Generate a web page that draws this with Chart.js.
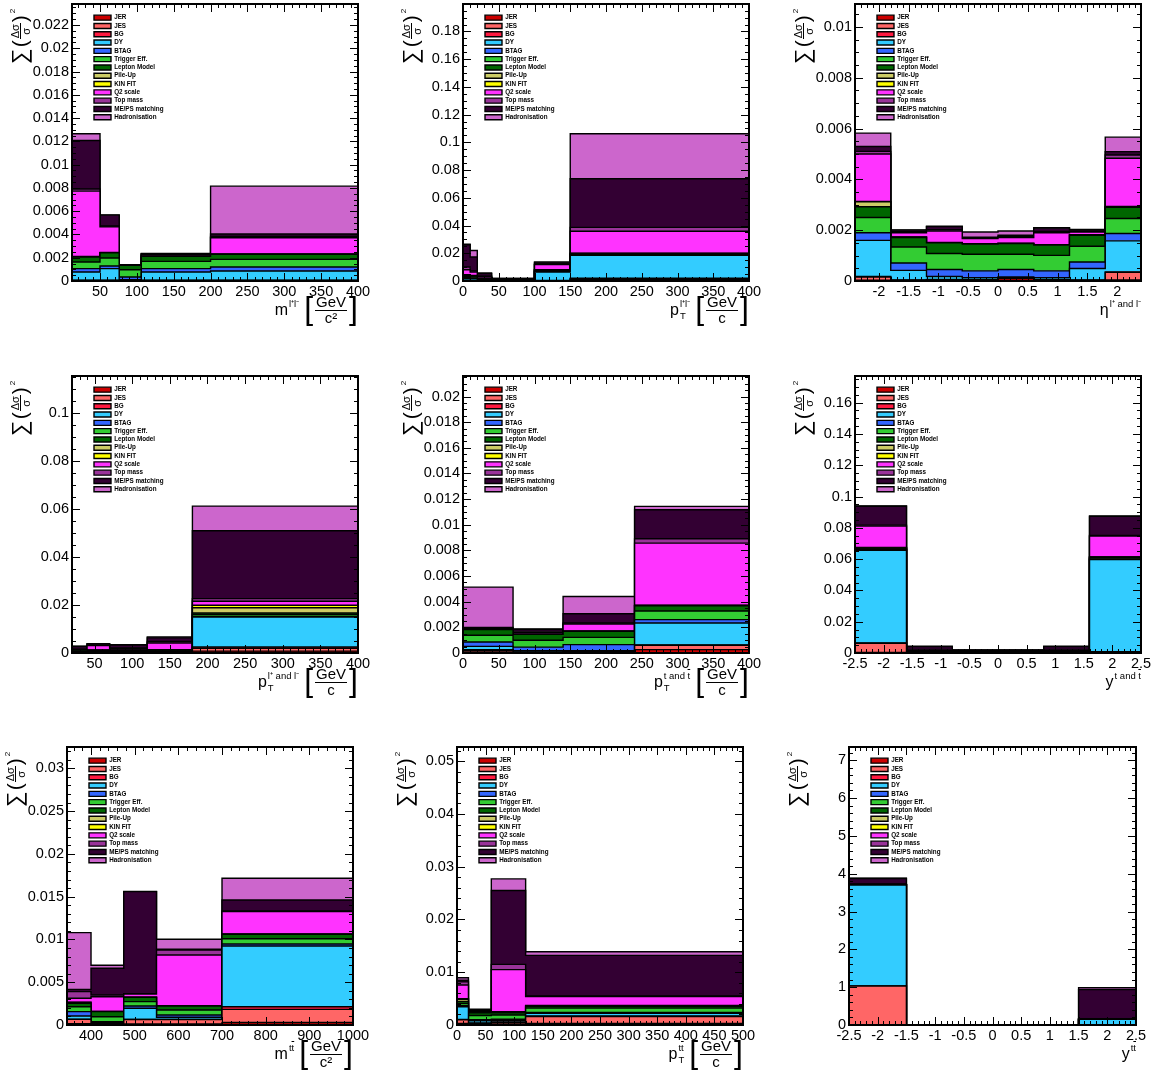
<!DOCTYPE html>
<html><head><meta charset="utf-8">
<script src="https://cdn.jsdelivr.net/npm/chart.js@4/dist/chart.umd.min.js"></script>
<style>
html,body{margin:0;padding:0;background:#fff;}
#page{position:relative;width:1151px;height:1070px;overflow:hidden;background:#fff;font-family:"Liberation Sans",Arial,Helvetica,sans-serif;color:#000;}
canvas{position:absolute;}
.xt{position:absolute;display:flex;align-items:center;height:30px;font-size:16px;white-space:nowrap;line-height:1;}
.ss{display:inline-flex;flex-direction:column;font-size:9.5px;line-height:9px;margin-left:1px;}
.sp{position:relative;top:-2px;}
.sb{position:relative;top:1px;}
.ov{text-decoration:overline;}
.br{font-size:32px;line-height:30px;font-weight:300;margin:0 2px 0 5px;position:relative;top:-2px;}
.br.r{margin:0 0 0 2px;}
.fr{display:inline-flex;flex-direction:column;align-items:center;font-size:15px;line-height:14px;}
.fr .nu{border-bottom:1px solid #000;padding:0 1px 1px 1px;}
.yt{position:absolute;left:0;top:0;transform-origin:0 0;display:flex;align-items:center;height:22px;white-space:nowrap;line-height:1;}
.yt .sum{font-size:22px;}
.yt .par{font-size:21px;font-weight:300;margin:0 1px;position:relative;top:-1px;}
.yt .yfr{display:inline-flex;flex-direction:column;align-items:center;font-size:11px;line-height:10px;}
.yt .yfr .nu{border-bottom:1px solid #000;padding:0 1px;}
.yt .two{font-size:8px;align-self:flex-start;margin-left:1px;}
</style>
</head><body><div id="page"></div>
<script>
// ---------------- DATA ----------------
const SOURCES = ['JER','JES','BG','DY','BTAG','Trigger Eff.','Lepton Model','Pile-Up','KIN FIT','Q2 scale','Top mass','ME/PS matching','Hadronisation'];

// m(l+l-) [GeV/c^2]
const MLL_EDGES = [12, 50, 76, 106, 200, 400];
const MLL_VALUES = [
  [0.00002,0.00002,0.00001,0.00002,0.00002],
  [0.00003,0.00003,0.00001,0.00003,0.00003],
  [0.00002,0.00002,0.00001,0.00002,0.00002],
  [0.0007,0.00099,0.00008,0.0007,0.00079],
  [0.00029,0.00023,0.00023,0.00029,0.00034],
  [0.00057,0.00068,0.00063,0.00063,0.00066],
  [0.00043,0.00046,0.00037,0.00043,0.00043],
  [0.00002,0.00001,0.00001,0.00002,0.00002],
  [0.00002,0.00001,0.00001,0.00001,0.00002],
  [0.00562,0.0022,0.00001,0.00012,0.00139],
  [0.00018,0.00007,0.00001,0.00004,0.0001],
  [0.00417,0.00094,0.00002,0.00004,0.00022],
  [0.00058,0.00002,0.00001,0.00002,0.00411]
];

// pT(l+l-) [GeV/c]
const PTLL_EDGES = [0, 10, 20, 40, 60, 100, 150, 400];
const PTLL_VALUES = [
  [0.0002,0.0002,0.0001,0.0001,0.0001,0.0002,0.0012],
  [0.0002,0.0001,0.0001,0.00005,0.00005,0.0001,0.0005],
  [0.0001,0.0001,0.0001,0.00005,0.00005,0.0001,0.0003],
  [0.0015,0.0012,0.0005,0.0003,0.0003,0.0061,0.0166],
  [0.0003,0.0004,0.0002,0.0001,0.0001,0.0003,0.0003],
  [0.001,0.0008,0.0004,0.0003,0.0003,0.0004,0.0004],
  [0.0008,0.0008,0.0004,0.0003,0.0003,0.0005,0.0003],
  [0.0003,0.0002,0.0001,0.00005,0.00005,0.0003,0.0003],
  [0.0002,0.0002,0.0001,0.00005,0.00005,0.0002,0.0001],
  [0.0035,0.0025,0.0012,0.0002,0.0001,0.0036,0.0159],
  [0.002,0.0008,0.0003,0.00005,0.00005,0.0004,0.0028],
  [0.016,0.01,0.0018,0.0003,0.0003,0.0008,0.035],
  [0.0004,0.0047,0.0005,0.00005,0.00005,0.0007,0.0325]
];

// eta(l+ and l-)
const ETAL_EDGES = [-2.4, -1.8, -1.2, -0.6, 0, 0.6, 1.2, 1.8, 2.4];
const ETAL_VALUES = [
  [0.00003,0.00001,0.00002,0.00002,0.0001,0.00002,0.00001,0.00004],
  [0.00013,0.00002,0.00003,0.00002,0.00002,0.00002,0.00002,0.0003],
  [0.00002,0.00001,0.00001,0.00001,0.00001,0.00001,0.00001,0.00002],
  [0.00142,0.00038,0.00012,0.00008,0.00003,0.00008,0.00045,0.00122],
  [0.0003,0.00029,0.00027,0.00027,0.00029,0.00027,0.00026,0.00029],
  [0.0006,0.00063,0.00063,0.00065,0.0006,0.00061,0.00062,0.00059],
  [0.00042,0.00037,0.00042,0.0004,0.00042,0.0004,0.00043,0.00044],
  [0.0002,0.00001,0.00001,0.00001,0.00001,0.00001,0.00001,0.00002],
  [0.00001,0.00001,0.00001,0.00001,0.00001,0.00001,0.00001,0.00001],
  [0.00187,0.00017,0.00045,0.0002,0.00022,0.00047,0.00011,0.0019],
  [0.0001,0.00004,0.00005,0.00002,0.00003,0.00005,0.00003,0.00013],
  [0.00019,0.00006,0.00012,0.00003,0.00006,0.00013,0.00004,0.00013],
  [0.00053,0.00001,0.00002,0.00021,0.00017,0.00002,0.00003,0.00057]
];

// pT(l+ and l-) [GeV/c]
const PTL_EDGES = [20, 40, 70, 120, 180, 400];
const PTL_VALUES = [
  [0.0001,0.0001,0.0001,0.0001,0.0008],
  [0.0001,0.0001,0.0001,0.0001,0.0012],
  [0.0001,0.0001,0.0001,0.0001,0.0005],
  [0.0002,0.0002,0.0002,0.0003,0.0125],
  [0.0001,0.0001,0.0001,0.0001,0.0003],
  [0.0003,0.0002,0.0002,0.0002,0.0007],
  [0.0003,0.0003,0.0003,0.0003,0.0007],
  [0.0001,0.0001,0.0001,0.0001,0.0022],
  [0.0001,0.0001,0.0001,0.0001,0.001],
  [0.0001,0.0018,0.0005,0.0028,0.0017],
  [0.0001,0.0002,0.0003,0.0006,0.0011],
  [0.0011,0.0005,0.0012,0.0015,0.0283],
  [0.0001,0.0001,0.0002,0.0004,0.0103]
];

// pT(t and tbar) [GeV/c]
const PTT_EDGES = [0, 70, 140, 240, 400];
const PTT_VALUES = [
  [0.00008,0.00003,0.00005,0.00026],
  [0.00014,0.00003,0.00003,0.00034],
  [0.00004,0.00002,0.00002,0.00002],
  [0.00026,0.0001,0.00008,0.00172],
  [0.00034,0.00028,0.00047,0.00026],
  [0.00052,0.00054,0.00057,0.00067],
  [0.00044,0.00045,0.00047,0.00042],
  [0.00001,0.00001,0.00001,0.00002],
  [0.00001,0.00001,0.00001,0.00001],
  [0.00004,0.00012,0.00055,0.00485],
  [0.00004,0.00006,0.00008,0.00034],
  [0.00008,0.00018,0.00072,0.00226],
  [0.00314,0.00004,0.00135,0.00026]
];

// y(t and tbar)
const YT_EDGES = [-2.5, -1.6, -0.8, 0, 0.8, 1.6, 2.5];
const YT_VALUES = [
  [0.0003,0.0002,0.0001,0.0001,0.0002,0.0003],
  [0.0059,0.0002,0.0001,0.0001,0.0002,0.0003],
  [0.0002,0.0001,0.0001,0.0001,0.0001,0.0002],
  [0.0593,0.0003,0.0002,0.0002,0.0003,0.0589],
  [0.0003,0.0001,0.0001,0.0001,0.0001,0.0003],
  [0.0005,0.0002,0.0002,0.0002,0.0002,0.0006],
  [0.0005,0.0002,0.0002,0.0002,0.0002,0.0005],
  [0.0002,0.0001,0.0001,0.0001,0.0001,0.0002],
  [0.0002,0.0001,0.0001,0.0001,0.0001,0.0001],
  [0.0137,0.0005,0.0002,0.0002,0.0005,0.0133],
  [0.0006,0.0003,0.0001,0.0001,0.0003,0.0004],
  [0.0121,0.0018,0.0004,0.0004,0.0018,0.0122],
  [0.0002,0.0002,0.0001,0.0001,0.0002,0.0002]
];

// m(ttbar) [GeV/c^2]
const MTT_EDGES = [345, 400, 475, 550, 700, 1000];
const MTT_VALUES = [
  [0.00015,0.00008,0.00012,0.00012,0.0003],
  [0.00051,0.00012,0.00052,0.00052,0.00153],
  [0.00002,0.00002,0.00002,0.00002,0.00031],
  [0.00037,0.00006,0.00129,0.00025,0.0071],
  [0.00051,0.00012,0.00027,0.00026,0.00023],
  [0.00058,0.00057,0.00051,0.00058,0.00062],
  [0.00039,0.00059,0.0005,0.00047,0.00051],
  [0.0001,0.00001,0.00001,0.00001,0.00002],
  [0.00005,0.00001,0.00001,0.00001,0.00001],
  [0.00044,0.00173,0.00037,0.00594,0.00262],
  [0.00078,0.00019,0.00004,0.00059,0.00008],
  [0.00027,0.00313,0.01193,0.00008,0.00128],
  [0.00663,0.00035,0.00001,0.00117,0.00254]
];

// pT(ttbar) [GeV/c]
const PTTT_EDGES = [0, 20, 60, 120, 500];
const PTTT_VALUES = [
  [0.0003,0.0001,0.0002,0.0003],
  [0.0007,0.0002,0.0003,0.0013],
  [0.00007,0.0001,0.0001,0.0001],
  [0.0024,0.0004,0.0003,0.0005],
  [0.0002,0.0002,0.0002,0.0002],
  [0.0004,0.0008,0.0008,0.0008],
  [0.0004,0.0005,0.0004,0.0003],
  [0.0004,0.0001,0.0001,0.0001],
  [0.0001,0.0001,0.0001,0.0001],
  [0.0026,0.0002,0.008,0.0017],
  [0.0006,0.0001,0.001,0.0001],
  [0.0003,0.0001,0.014,0.0077],
  [0.0005,0.0001,0.0022,0.0007]
];

// y(ttbar)
const YTT_EDGES = [-2.5, -1.5, -0.5, 0.5, 1.5, 2.5];
const YTT_VALUES = [
  [0.01,0,0,0,0.003],
  [1.02,0,0,0,0.003],
  [0.002,0,0,0,0.002],
  [2.67,0,0,0,0.14],
  [0.003,0,0,0,0.002],
  [0.003,0,0,0,0.002],
  [0.003,0,0,0,0.002],
  [0.002,0,0,0,0.001],
  [0.001,0,0,0,0.001],
  [0.005,0,0,0,0.005],
  [0.003,0,0,0,0.005],
  [0.15,0,0,0,0.77],
  [0.01,0,0,0,0.05]
];

// axis ranges / tick steps
const Y_MAX  = [0.0238, 0.1998, 0.0109, 0.1156, 0.0216, 0.177, 0.0325, 0.0527, 7.35];
const Y_STEP = [0.002, 0.02, 0.002, 0.02, 0.002, 0.02, 0.005, 0.01, 1];
const X_STEP = [50, 50, 0.5, 50, 50, 0.5, 100, 50, 0.5];

// ---------------- STYLE ----------------
const COLORS = ['#cc0000','#ff6666','#ff1a40','#33ccff','#3366ff','#33cc33','#006600','#cccc66','#ffff00','#ff33ff','#993399','#330033','#cc66cc'];
const FONT = '"Liberation Sans", Arial, Helvetica, sans-serif';
const RECTS = [
  [72,4,358,281],[463,4,749,281],[855,4,1141,281],
  [72,376,358,653],[463,376,749,653],[855,376,1141,653],
  [67,747,353,1025],[457,747,743,1025],[849,747,1136,1025]
];
const TBAR = '<span class="ov">t</span>';
const XTITLES = [
  {v:'m', sup:'l⁺l⁻', sub:'', unit:'c²'},
  {v:'p', sup:'l⁺l⁻', sub:'T', unit:'c'},
  {v:'η', sup:'l⁺ and l⁻', sub:'', unit:''},
  {v:'p', sup:'l⁺ and l⁻', sub:'T', unit:'c'},
  {v:'p', sup:'t and ' + TBAR, sub:'T', unit:'c'},
  {v:'y', sup:'t and ' + TBAR, sub:'', unit:''},
  {v:'m', sup:'t' + TBAR, sub:'', unit:'c²'},
  {v:'p', sup:'t' + TBAR, sub:'T', unit:'c'},
  {v:'y', sup:'t' + TBAR, sub:'', unit:''}
];
const EDGES = [MLL_EDGES, PTLL_EDGES, ETAL_EDGES, PTL_EDGES, PTT_EDGES, YT_EDGES, MTT_EDGES, PTTT_EDGES, YTT_EDGES];
const VALUES = [MLL_VALUES, PTLL_VALUES, ETAL_VALUES, PTL_VALUES, PTT_VALUES, YT_VALUES, MTT_VALUES, PTTT_VALUES, YTT_VALUES];

const fmt = v => String(+(+v).toFixed(8));
const minorDiv = step => { const lead = Math.round(step / Math.pow(10, Math.floor(Math.log10(step) + 1e-9))); return lead === 2 ? 4 : 5; };

const rootFrame = {
  id: 'rootFrame',
  afterLayout(chart) {
    const lg = chart.legend, a = chart.chartArea;
    if (lg && a) {
      const w = lg.width, h = lg.height;
      lg.left = a.left + 20; lg.top = a.top + 8.5;
      lg.right = lg.left + w; lg.bottom = lg.top + h;
    }
  },
  afterDatasetsDraw(chart, args, opts) {
    const {ctx, chartArea: a} = chart;
    const xs = chart.scales.x, ys = chart.scales.y;
    const marks = (scale, minor) => {
      const out = [];
      const majors = scale.ticks.map(t => t.value);
      const n0 = Math.ceil(scale.min / minor - 1e-6), n1 = Math.floor(scale.max / minor + 1e-6);
      for (let n = n0; n <= n1; n++) {
        const v = n * minor;
        out.push([v, majors.some(m => Math.abs(m - v) < minor * 1e-3)]);
      }
      return out;
    };
    ctx.save();
    ctx.strokeStyle = '#000';
    ctx.lineWidth = 1;
    ctx.beginPath();
    for (const [v, maj] of marks(xs, opts.xMinor)) {
      const px = Math.round(xs.getPixelForValue(v)) + 0.5, len = maj ? 8 : 4;
      ctx.moveTo(px, a.bottom); ctx.lineTo(px, a.bottom - len);
      ctx.moveTo(px, a.top); ctx.lineTo(px, a.top + len);
    }
    for (const [v, maj] of marks(ys, opts.yMinor)) {
      const py = Math.round(ys.getPixelForValue(v)) + 0.5, len = maj ? 8 : 4;
      ctx.moveTo(a.left, py); ctx.lineTo(a.left + len, py);
      ctx.moveTo(a.right, py); ctx.lineTo(a.right - len, py);
    }
    ctx.stroke();
    ctx.lineWidth = 2;
    ctx.strokeRect(a.left, a.top, a.right - a.left, a.bottom - a.top);
    ctx.restore();
  }
};

const page = document.getElementById('page');

function xTitleHTML(t) {
  let h = '<span>' + t.v + '</span>';
  h += '<span class="ss"><span class="sp">' + t.sup + '</span><span class="sb">' + (t.sub || '&nbsp;') + '</span></span>';
  if (t.unit) {
    h += '<span class="br">[</span><span class="fr"><span class="nu">GeV</span><span>' + t.unit + '</span></span><span class="br r">]</span>';
  }
  return h;
}

for (let i = 0; i < 9; i++) {
  const [L, T, R, B] = RECTS[i];
  const edges = EDGES[i], values = VALUES[i];
  const cv = document.createElement('canvas');
  const cw = R - L + 82, ch = B - T + 32;
  cv.width = cw; cv.height = ch;
  cv.style.left = (L - 60) + 'px'; cv.style.top = (T - 6) + 'px';
  cv.style.width = cw + 'px'; cv.style.height = ch + 'px';
  page.appendChild(cv);

  const datasets = SOURCES.map((name, k) => ({
    label: name,
    data: edges.map((e, j) => ({x: e, y: values[k][Math.min(j, values[k].length - 1)]})),
    stepped: 'before',
    fill: k === 0 ? 'origin' : '-1',
    backgroundColor: COLORS[k],
    borderColor: '#000',
    borderWidth: 1.4,
    pointRadius: 0,
    tension: 0
  }));

  new Chart(cv, {
    type: 'line',
    data: {datasets},
    options: {
      responsive: false, animation: false, events: [],
      layout: {padding: {left: 0, top: 6, right: 22, bottom: 0}},
      plugins: {
        legend: {position: 'chartArea', align: 'start',
          labels: {boxWidth: 17, boxHeight: 5, padding: 2, color: '#000', font: {family: FONT, size: 6.3, weight: 'bold'}}},
        tooltip: {enabled: false},
        rootFrame: {xMinor: X_STEP[i] / minorDiv(X_STEP[i]), yMinor: Y_STEP[i] / minorDiv(Y_STEP[i])}
      },
      scales: {
        x: {type: 'linear', min: edges[0], max: edges[edges.length - 1],
          grid: {display: false, drawTicks: false}, border: {display: false},
          ticks: {stepSize: X_STEP[i], includeBounds: false, autoSkip: false, maxRotation: 0, minRotation: 0,
            padding: 2, color: '#000', font: {family: FONT, size: 14.5}, callback: v => fmt(v)},
          afterFit: s => { s.height = 26; s.paddingLeft = 0; s.paddingRight = 0; }},
        y: {type: 'linear', stacked: true, min: 0, max: Y_MAX[i],
          grid: {display: false, drawTicks: false}, border: {display: false},
          ticks: {stepSize: Y_STEP[i], includeBounds: false, autoSkip: false, padding: 3, color: '#000',
            font: {family: FONT, size: 14.5}, callback: v => fmt(v)},
          afterFit: s => { s.width = 60; s.paddingTop = 0; s.paddingBottom = 0; }}
      }
    },
    plugins: [rootFrame]
  });

  const xt = document.createElement('div');
  xt.className = 'xt';
  xt.style.right = (1151 - R) + 'px';
  xt.style.top = (B + 14) + 'px';
  xt.innerHTML = xTitleHTML(XTITLES[i]);
  page.appendChild(xt);

  const yt = document.createElement('div');
  yt.className = 'yt';
  yt.style.transform = 'translate(' + (L - 63) + 'px,' + (T + 60) + 'px) rotate(-90deg)';
  yt.innerHTML = '<span class="sum">∑</span><span class="par">(</span><span class="yfr"><span class="nu">Δσ</span><span>σ</span></span><span class="par">)</span><span class="two">2</span>';
  page.appendChild(yt);
}
</script>
</body></html>
